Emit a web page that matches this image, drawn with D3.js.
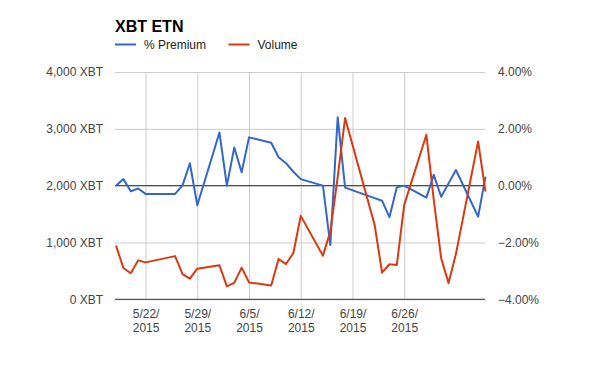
<!DOCTYPE html>
<html>
<head>
<meta charset="utf-8">
<script src="https://cdnjs.cloudflare.com/ajax/libs/d3/7.8.5/d3.min.js"></script>
<style>
body{margin:0;background:#fff;}
text{font-family:Arial,"Liberation Sans",sans-serif;}
</style>
</head>
<body>
<div class="chart"></div>
<script>
// trading days shown in the chart
var dates = ["5/18/2015","5/19/2015","5/20/2015","5/21/2015","5/22/2015",
    "5/26/2015","5/27/2015","5/28/2015","5/29/2015",
    "6/1/2015","6/2/2015","6/3/2015","6/4/2015","6/5/2015",
    "6/8/2015","6/9/2015","6/10/2015","6/11/2015","6/12/2015",
    "6/15/2015","6/16/2015","6/17/2015","6/18/2015",
    "6/22/2015","6/23/2015","6/24/2015","6/25/2015","6/26/2015",
    "6/29/2015","6/30/2015","7/1/2015","7/2/2015","7/3/2015",
    "7/6/2015","7/7/2015"];

// % premium (right axis)
var premium = [0.00,0.23,-0.20,-0.10,-0.29,
    -0.29,0.01,0.79,-0.69,
    1.87,0.00,1.34,0.47,1.70,
    1.51,1.00,0.79,0.49,0.23,
    0.00,-2.09,2.41,-0.07,
    -0.44,-0.53,-1.11,-0.06,0.00,
    -0.42,0.38,-0.39,0.08,0.55,
    -1.09,0.32];

// volume in XBT (left axis)
var volume = [945,550,458,685,650,
    760,443,363,539,
    599,228,288,557,297,
    243,710,620,815,1468,
    768,1191,2150,3189,
    1309,469,617,604,1661,
    2895,1750,723,285,800,
    2777,1896];

var volTicks = [0,1000,2000,3000,4000];
var premTicks = [-4,-2,0,2,4];
var xTickDates = ["5/22/2015","5/29/2015","6/5/2015","6/12/2015","6/19/2015","6/26/2015"];

var seriesNames = ["% Premium","Volume"];
var seriesColors = ["#3366cc","#dc3912"];

var width = 600, height = 371;
var plotLeft = 115, plotRight = 485, plotTop = 72, plotBottom = 299.3;

var parse = d3.timeParse("%m/%d/%Y");
var rows = dates.map(function(d,i){
    return {date:parse(d), premium:premium[i], volume:volume[i]};
});

var svg = d3.select(".chart").append("svg")
    .attr("width",width)
    .attr("height",height);

var x = d3.scaleTime()
    .domain([parse("5/18/2015"), parse("7/7/2015")])
    .range([116, 485.5]);
var yL = d3.scaleLinear().domain([0,4000]).range([plotBottom, plotTop]);
var yR = d3.scaleLinear().domain([-4,4]).range([plotBottom, plotTop]);

// vertical grid + x labels
var xAxis = svg.append("g")
    .attr("transform","translate(0,"+plotBottom+")")
    .call(d3.axisBottom(x)
        .tickValues(xTickDates.map(parse))
        .tickSize(-(plotBottom-plotTop))
        .tickPadding(0)
        .tickFormat(d3.timeFormat("%-m/%-d/%Y")));
xAxis.select(".domain").remove();
xAxis.selectAll("line").attr("stroke","#cccccc");
xAxis.selectAll("text").each(function(){
    var t = d3.select(this), s = t.text(), k = s.lastIndexOf("/");
    t.text(null).attr("fill","#444").attr("font-size",12).attr("y",0).attr("dy",null);
    t.append("tspan").attr("x",0).attr("y",18.5).text(s.slice(0,k+1));
    t.append("tspan").attr("x",0).attr("y",32.5).text(s.slice(k+1));
});

// horizontal grid + left labels
var leftAxis = svg.append("g")
    .attr("transform","translate("+plotLeft+",0)")
    .call(d3.axisLeft(yL)
        .tickValues(volTicks)
        .tickSize(-(plotRight-plotLeft))
        .tickPadding(12)
        .tickFormat(function(d){ return d3.format(",")(d)+" XBT"; }));
leftAxis.select(".domain").remove();
leftAxis.selectAll("line").attr("stroke","#cccccc");
leftAxis.selectAll("text").attr("fill","#444").attr("font-size",12);

// right labels
var rightAxis = svg.append("g")
    .attr("transform","translate("+plotRight+",0)")
    .call(d3.axisRight(yR)
        .tickValues(premTicks)
        .tickSize(0)
        .tickPadding(13)
        .tickFormat(function(d){ return d3.format(".2f")(d)+"%"; }));
rightAxis.select(".domain").remove();
rightAxis.selectAll("text").attr("fill","#444").attr("font-size",12);

// baselines
svg.append("line")
    .attr("x1",plotLeft).attr("x2",plotRight)
    .attr("y1",yL(0)).attr("y2",yL(0))
    .attr("stroke","#333");
svg.append("line")
    .attr("x1",plotLeft).attr("x2",plotRight)
    .attr("y1",yR(0)).attr("y2",yR(0))
    .attr("stroke","#333");

// lines
var premLine = d3.line()
    .x(function(d){ return x(d.date); })
    .y(function(d){ return yR(d.premium); });
var volLine = d3.line()
    .x(function(d){ return x(d.date); })
    .y(function(d){ return yL(d.volume); });

svg.append("path")
    .datum(rows)
    .attr("d",premLine)
    .attr("fill","none")
    .attr("stroke",seriesColors[0])
    .attr("stroke-width",2)
    .attr("stroke-linejoin","round");
svg.append("path")
    .datum(rows)
    .attr("d",volLine)
    .attr("fill","none")
    .attr("stroke",seriesColors[1])
    .attr("stroke-width",2)
    .attr("stroke-linejoin","round");

// title
svg.append("text")
    .attr("x",115).attr("y",31.5)
    .attr("font-size",16).attr("font-weight","bold")
    .attr("fill","#000")
    .text("XBT ETN");

// legend
var legendX = [115, 228.5];
var legend = svg.selectAll(".legend")
    .data(seriesNames)
    .enter().append("g")
    .attr("class","legend")
    .attr("transform",function(d,i){ return "translate("+legendX[i]+",44.5)"; });
legend.append("line")
    .attr("x1",0).attr("x2",21)
    .attr("stroke",function(d,i){ return seriesColors[i]; })
    .attr("stroke-width",2);
legend.append("text")
    .attr("x",29).attr("dy","0.35em")
    .attr("font-size",12).attr("fill","#222")
    .text(function(d){ return d; });
</script>
</body>
</html>
